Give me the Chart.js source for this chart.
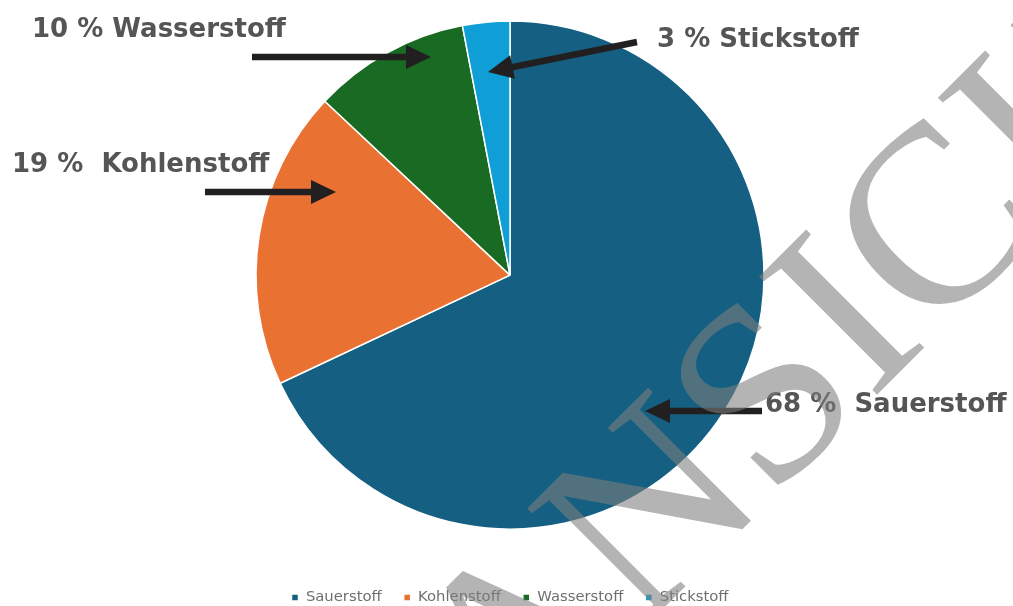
<!DOCTYPE html>
<html>
<head>
<meta charset="utf-8">
<script src="https://cdn.jsdelivr.net/npm/chart.js@4.4.1/dist/chart.umd.min.js"></script>
<style>
  html, body { margin: 0; padding: 0; background: #ffffff; overflow: hidden; }
  #wrap { width: 1013px; height: 615px; position: relative; }
</style>
</head>
<body>
<div id="wrap"><canvas id="c"></canvas></div>
<script>
// ---- data ----
const categories = ['Sauerstoff', 'Kohlenstoff', 'Wasserstoff', 'Stickstoff'];
const values = [68, 19, 10, 3];
const sliceColors = ['#156082', '#E97132', '#196B24', '#0F9ED5'];
const calloutTexts = ['68 %  Sauerstoff', '19 %  Kohlenstoff', '10 % Wasserstoff', '3 % Stickstoff'];
const watermarkText = 'ANSICHT';

// ---- callout layout (label position + arrow from -> tip) ----
const calloutLayout = [
  { tx: 765, ty: 412, ax1: 762, ay1: 411, ax2: 645, ay2: 411 },
  { tx: 12,  ty: 172, ax1: 205, ay1: 192, ax2: 336, ay2: 192 },
  { tx: 32,  ty: 37,  ax1: 252, ay1: 57,  ax2: 431, ay2: 57 },
  { tx: 657, ty: 47,  ax1: 637, ay1: 42,  ax2: 488, ay2: 72 }
];

function drawArrow(ctx, x1, y1, x2, y2) {
  const ang = Math.atan2(y2 - y1, x2 - x1);
  const headLen = 25, headHalf = 12;
  const bx = x2 - Math.cos(ang) * headLen;
  const by = y2 - Math.sin(ang) * headLen;
  ctx.save();
  ctx.strokeStyle = '#221f20';
  ctx.fillStyle = '#221f20';
  ctx.lineWidth = 6.5;
  ctx.beginPath();
  ctx.moveTo(x1, y1);
  ctx.lineTo(bx + Math.cos(ang) * 2, by + Math.sin(ang) * 2);
  ctx.stroke();
  ctx.beginPath();
  ctx.moveTo(x2, y2);
  ctx.lineTo(bx + Math.sin(ang) * headHalf, by - Math.cos(ang) * headHalf);
  ctx.lineTo(bx - Math.sin(ang) * headHalf, by + Math.cos(ang) * headHalf);
  ctx.closePath();
  ctx.fill();
  ctx.restore();
}

const calloutPlugin = {
  id: 'callouts',
  afterDraw(chart) {
    const ctx = chart.ctx;
    ctx.save();
    ctx.font = 'bold 26px "DejaVu Sans"';
    ctx.fillStyle = '#555555';
    ctx.textAlign = 'left';
    ctx.textBaseline = 'alphabetic';
    calloutTexts.forEach((t, i) => {
      const L = calloutLayout[i];
      ctx.fillText(t, L.tx, L.ty);
      drawArrow(ctx, L.ax1, L.ay1, L.ax2, L.ay2);
    });
    // watermark on top
    ctx.translate(853, 324);
    ctx.rotate(-45 * Math.PI / 180);
    ctx.font = '255px "Liberation Serif"';
    ctx.fillStyle = 'rgba(125,125,125,0.58)';
    ctx.textAlign = 'center';
    ctx.textBaseline = 'middle';
    ctx.fillText(watermarkText, 0, 0);
    ctx.restore();
  }
};

new Chart(document.getElementById('c'), {
  type: 'pie',
  data: {
    labels: categories,
    datasets: [{
      data: values,
      backgroundColor: sliceColors,
      borderColor: '#ffffff',
      borderWidth: 1.5,
      radius: 254
    }]
  },
  options: {
    responsive: true,
    maintainAspectRatio: false,
    animation: false,
    layout: { padding: { left: 7, right: 0, top: 0, bottom: 0 } },
    plugins: {
      tooltip: { enabled: false },
      legend: {
        position: 'bottom',
        title: { display: true, text: '', padding: 0, font: { size: 10, lineHeight: '18px' } },
        labels: {
          boxWidth: 7,
          boxHeight: 7,
          padding: 22,
          color: '#6f6f6f',
          font: { family: '"DejaVu Sans"', size: 14.8 }
        }
      }
    }
  },
  plugins: [calloutPlugin]
});
</script>
</body>
</html>
